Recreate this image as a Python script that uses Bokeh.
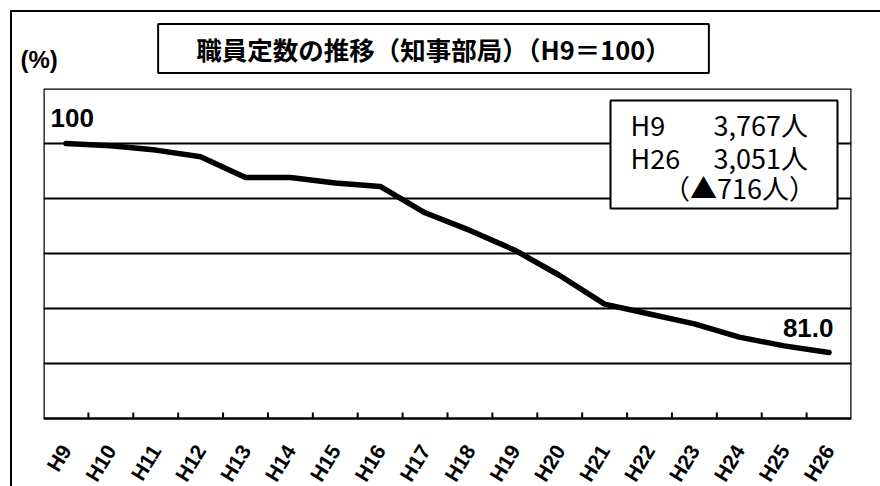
import math
from bokeh.plotting import figure
from bokeh.models import Range1d, FixedTicker, Grid, Label, BoxAnnotation
from bokeh.core.properties import value
from bokeh.embed import file_html
from bokeh.resources import INLINE

# ---- data ----
categories = ["H9", "H10", "H11", "H12", "H13", "H14", "H15", "H16", "H17",
              "H18", "H19", "H20", "H21", "H22", "H23", "H24", "H25", "H26"]
index_values = [100.0, 99.8, 99.4, 98.8, 96.9, 96.9, 96.4, 96.1, 93.7,
                92.1, 90.3, 88.0, 85.4, 84.5, 83.6, 82.4, 81.6, 81.0]
y_min, y_max = 75, 105
grid_values = [80, 85, 90, 95, 100]
title_text = "職員定数の推移（知事部局）（H9＝100）"
unit_text = "(%)"
info_years = ["H9", "H26"]
info_counts = ["3,767人", "3,051人"]
info_diff = "（▲716人）"

JP = "Noto Sans CJK JP"
LAT = "Liberation Sans"

n = len(categories)
xs = [i + 0.5 for i in range(n)]

# vertical scale: 11 px per unit; the label band below the plot area is 68 px tall
px_per_unit = 11.0
label_band = 68 / px_per_unit

p = figure(width=880, height=486, x_range=Range1d(0, n),
           y_range=Range1d(y_min - label_band, y_max),
           output_backend="svg", toolbar_location=None,
           x_axis_location=None, y_axis_location=None,
           min_border_left=43, min_border_right=29, min_border_top=88, min_border_bottom=0,
           background_fill_color="white", border_fill_color=None)
p.outline_line_color = None

# outer frame (top and left lines of the surrounding box)
p.styles = {
    "background": "linear-gradient(#000,#000) 10px 10px / 2px calc(100% - 10px) no-repeat, "
                  "linear-gradient(#000,#000) 10px 10px / calc(100% - 10px) 2px no-repeat, #fff"
}

p.xgrid.visible = False
p.ygrid.visible = False
p.add_layout(Grid(dimension=1, ticker=FixedTicker(ticks=grid_values),
                  grid_line_color="black", grid_line_width=2))

# plot-area border
p.add_layout(BoxAnnotation(left=0, right=n, bottom=y_min, top=y_max,
                           fill_color=None, fill_alpha=0,
                           line_color="black", line_width=2.5, line_alpha=1.0))

# boundary tick marks (inside the plot area)
bx = list(range(1, n))
p.segment(x0=bx, y0=[y_min] * len(bx), x1=bx, y1=[y_min + 0.55] * len(bx),
          line_color="black", line_width=2)

# category labels, rotated
p.text(x=xs, y=[y_min - 2.55] * n, text=categories, angle=45,
       text_align="right", text_baseline="middle",
       text_font=value(LAT), text_font_style="bold", text_font_size="21px",
       text_color="black")

# data line
p.line(xs, index_values, line_width=5.5, line_color="black", line_join="round", line_cap="round")

def box(l, t, r, b, fill="white", lw=2):
    return BoxAnnotation(left=l, right=r, top=t, bottom=b,
                         left_units="canvas", right_units="canvas",
                         top_units="canvas", bottom_units="canvas",
                         fill_color=fill, fill_alpha=1.0 if fill else 0,
                         line_color="black", line_width=lw, line_alpha=1.0)

def label(x, y, text, font, size, style="bold", align="left", **kw):
    return Label(x=x, y=y, x_units="canvas", y_units="canvas", text=text,
                 text_font=font, text_font_size=size, text_font_style=style,
                 text_align=align, text_baseline="middle", text_color="black", **kw)

# title box (in a side panel so it is not clipped to the plot frame)
p.add_layout(label(433, 48, title_text, JP, "25.5px", align="center",
                   border_line_color="black", border_line_width=2,
                   background_fill_color="white", padding=(38, 6)), "above")
p.add_layout(label(20, 59, unit_text, LAT, "24px"), "left")

# endpoint labels
p.add_layout(label(50, 117, f"{index_values[0]:.0f}", LAT, "26px"))
p.add_layout(label(833, 327, f"{index_values[-1]:.1f}", LAT, "26px", align="right"))
# info box
p.add_layout(box(610, 100, 837, 208))
p.add_layout(label(630, 124, info_years[0], JP, "27px", style="normal"))
p.add_layout(label(713, 124, info_counts[0], JP, "27px", style="normal"))
p.add_layout(label(630, 157, info_years[1], JP, "27px", style="normal"))
p.add_layout(label(713, 157, info_counts[1], JP, "27px", style="normal"))
p.add_layout(label(739, 187, info_diff, JP, "27px", style="normal", align="center"))

open("out.html", "w").write(file_html(p, INLINE))
